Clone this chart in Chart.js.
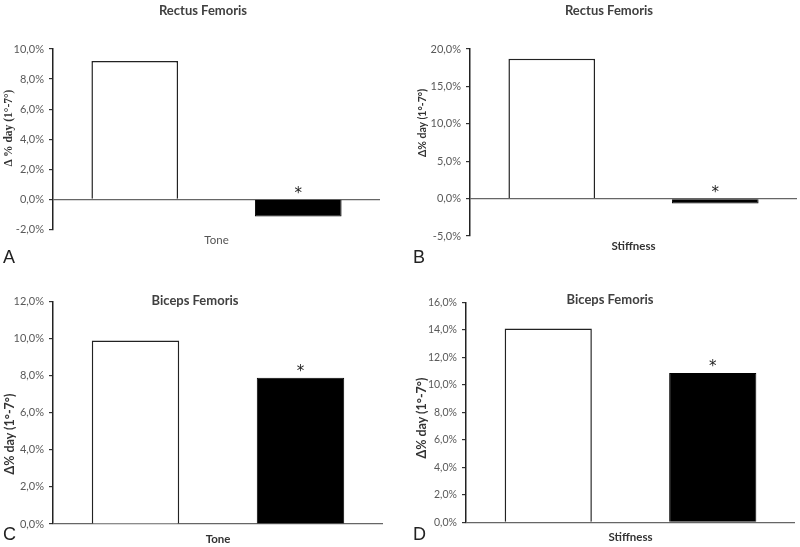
<!DOCTYPE html>
<html>
<head>
<meta charset="utf-8">
<script src="https://cdn.jsdelivr.net/npm/chart.js@4"></script>
<style>
  body { margin: 0; background: #fff; width: 800px; height: 547px; position: relative; overflow: hidden; }
  .panel { position: absolute; }
  .ttl { position: absolute; transform: translate(-50%, -50%); font: bold 13px Lato, sans-serif; color: #404040; white-space: nowrap; }
  .yt { position: absolute; transform: translate(-50%, -50%) rotate(-90deg); font-family: Lato, "Open Sans", sans-serif; font-weight: bold; font-size: 10.5px; color: #333; white-space: nowrap; }
  .let { position: absolute; font: 18px "Liberation Sans", sans-serif; color: #222; line-height: 1; }
</style>
</head>
<body>
<div class="panel" style="left:0;top:0;width:400px;height:270px"><canvas id="c0"></canvas></div>
<div class="panel" style="left:400px;top:0;width:400px;height:270px"><canvas id="c1"></canvas></div>
<div class="panel" style="left:0;top:270px;width:400px;height:277px"><canvas id="c2"></canvas></div>
<div class="panel" style="left:400px;top:270px;width:400px;height:277px"><canvas id="c3"></canvas></div>
<div class="ttl" style="left:203px;top:10px">Rectus Femoris</div>
<div class="ttl" style="left:609px;top:10px">Rectus Femoris</div>
<div class="ttl" style="left:195px;top:300px">Biceps Femoris</div>
<div class="ttl" style="left:610px;top:299px">Biceps Femoris</div>
<div class="yt" id="yt0" style="left:8px;top:128px;font-family:'Liberation Serif', serif;font-size:11.5px"></div>
<div class="yt" id="yt1" style="left:422px;top:123px"></div>
<div class="yt" id="yt2" style="left:9px;top:434px;font-size:12.5px"></div>
<div class="yt" id="yt3" style="left:421px;top:418px;font-size:12.5px"></div>
<div class="let" style="left:3px;top:248px">A</div>
<div class="let" style="left:413px;top:248px">B</div>
<div class="let" style="left:3px;top:525px">C</div>
<div class="let" style="left:413px;top:525px">D</div>
<script>
// data, one entry per panel (A, B, C, D)
const categories = ['Tone', 'Stiffness', 'Tone', 'Stiffness'];
const whiteBars = [9.2, 18.7, 9.9, 14.1];
const blackBars = [-1.15, -0.65, 7.9, 10.85];
const marks = ['*', '*', '*', '*'];
const yMin = [-2, -5, 0, 0];
const yMax = [10, 20, 12, 16];
const yStep = [2, 5, 2, 2];
const yTitles = ['Δ % day (1°-7°)', 'Δ% day (1°-7°)', 'Δ% day (1°-7°)', 'Δ% day (1°-7°)'];

// plot box of each panel inside its canvas: left, top, right, bottom
const boxes = [
  [53, 49, 380, 229.3],
  [70, 49, 397, 236],
  [53, 31.7, 383, 254],
  [66, 32.3, 395, 252.3]
];
const sizes = [[400, 270], [400, 270], [400, 277], [400, 277]];
const labelPad = [4, 3.5, 8, 8];
const tickSize = [11, 11, 11, 10.5];

const starPlugin = {
  id: 'stars',
  afterDatasetsDraw(chart) {
    const i = chart.options.plugins.stars.index;
    const meta = chart.getDatasetMeta(1);
    const ctx = chart.ctx;
    ctx.save();
    ctx.font = '15px "DejaVu Sans", sans-serif';
    ctx.fillStyle = '#222';
    ctx.textAlign = 'center';
    ctx.textBaseline = 'middle';
    meta.data.forEach(bar => {
      const top = Math.min(bar.y, bar.base);
      ctx.fillText(marks[i], bar.x, top - 6);
    });
    ctx.restore();
  }
};

function fmt(v) {
  return v.toFixed(1).replace('.', ',') + '%';
}

for (let i = 0; i < 4; i++) {
  document.getElementById('yt' + i).textContent = yTitles[i];
  const b = boxes[i];
  const w = sizes[i][0], h = sizes[i][1];
  const xH = 20;
  new Chart(document.getElementById('c' + i), {
    type: 'bar',
    data: {
      labels: [categories[i]],
      datasets: [
        { data: [whiteBars[i]], backgroundColor: '#fff', borderColor: '#222', borderWidth: 1.5 },
        { data: [blackBars[i]], backgroundColor: '#000', borderColor: '#000', borderWidth: 1 }
      ]
    },
    options: {
      responsive: true,
      maintainAspectRatio: false,
      animation: false,
      datasets: { bar: { categoryPercentage: 1, barPercentage: 0.53 } },
      layout: { padding: { left: 0, top: b[1], right: w - b[2], bottom: h - b[3] - xH } },
      plugins: { legend: { display: false }, tooltip: { enabled: false }, stars: { index: i } },
      scales: {
        x: {
          grid: { display: false, drawTicks: false },
          border: { display: false },
          ticks: {
            padding: labelPad[i],
            color: i === 0 ? '#555' : '#333',
            font: { family: 'Lato', size: 11.5, weight: i === 0 ? 'normal' : 'bold' }
          },
          afterFit(s) { s.height = xH; }
        },
        y: {
          min: yMin[i],
          max: yMax[i],
          ticks: {
            stepSize: yStep[i],
            padding: 5,
            color: '#595959',
            font: { family: 'Lato', size: tickSize[i] },
            callback: v => fmt(v)
          },
          grid: {
            color: c => (c.tick && c.tick.value === 0) ? '#666' : 'rgba(0,0,0,0)',
            tickColor: '#333',
            tickLength: 4,
            lineWidth: 1.2
          },
          border: { color: '#222', width: 1.5 },
          afterFit(s) { s.width = b[0]; }
        }
      }
    },
    plugins: [starPlugin]
  });
}
</script>
</body>
</html>
